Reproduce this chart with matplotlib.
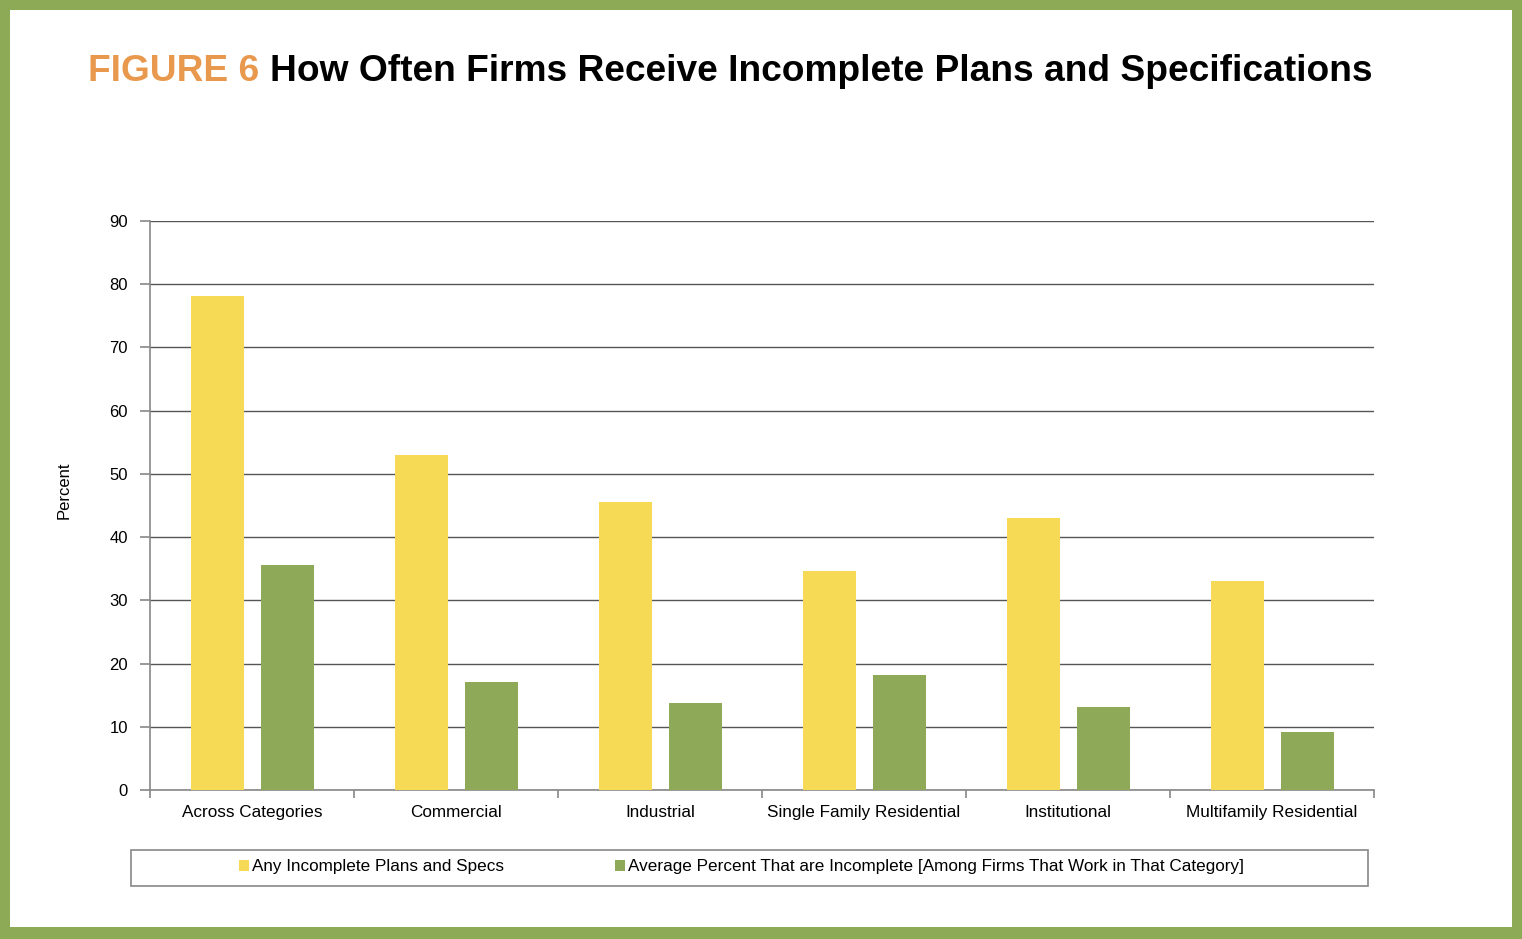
import matplotlib
matplotlib.use("Agg")
import matplotlib.pyplot as plt
import numpy as np
from matplotlib.patches import Rectangle

categories = ["Across Categories", "Commercial", "Industrial",
              "Single Family Residential", "Institutional", "Multifamily Residential"]
any_incomplete = [78.2, 53.0, 45.6, 34.6, 43.0, 33.1]
avg_percent = [35.6, 17.1, 13.8, 18.2, 13.1, 9.2]
series_names = ["Any Incomplete Plans and Specs",
                "Average Percent That are Incomplete [Among Firms That Work in That Category]"]
yticks = [0, 10, 20, 30, 40, 50, 60, 70, 80, 90]

YELLOW = "#F6D955"
GREEN = "#8EAA58"
FRAME = "#8DAA57"
ORANGE = "#E8994E"

plt.rcParams['font.family'] = ['Liberation Sans', 'DejaVu Sans']

W, H = 1522, 939
fig = plt.figure(figsize=(W / 100, H / 100), dpi=100)
fig.patch.set_facecolor(FRAME)
fig.add_artist(Rectangle((10 / W, 12 / H), (W - 20) / W, (H - 22) / H,
                         transform=fig.transFigure, facecolor="white", edgecolor="none", zorder=0))

ax = fig.add_axes([150 / W, (H - 790) / H, 1224 / W, 569 / H])
ax.set_facecolor("none")
x = np.arange(len(categories))
bw = 0.26
ax.bar(x - 0.167, any_incomplete, width=bw, color=YELLOW, zorder=3, label=series_names[0])
ax.bar(x + 0.176, avg_percent, width=bw, color=GREEN, zorder=3, label=series_names[1])

ax.set_xlim(-0.5, len(categories) - 0.5)
ax.set_ylim(0, 90)
ax.set_yticks(yticks)
ax.yaxis.grid(True, color="#555555", linewidth=1.0, zorder=1)
ax.set_axisbelow(True)
for s in ["top", "right"]:
    ax.spines[s].set_visible(False)
for s in ["left", "bottom"]:
    ax.spines[s].set_color("#888888")
    ax.spines[s].set_linewidth(1.2)
ax.set_xticks(x)
ax.set_xticklabels(categories, fontsize=12.3)
ax.tick_params(axis="x", length=0, pad=11)
ax.set_xticks(np.arange(len(categories) + 1) - 0.5, minor=True)
ax.tick_params(axis="x", which="minor", length=6, color="#888888", width=1.2)
ax.tick_params(axis="y", length=7, color="#888888", width=1.2, labelsize=12, pad=9)
ax.set_ylabel("Percent", fontsize=12)
ax.yaxis.set_label_coords(-0.0637, 0.527)

# legend box
fig.add_artist(Rectangle((131 / W, (H - 886) / H), (1368 - 131) / W, 36 / H,
                         transform=fig.transFigure, facecolor="white", edgecolor="#888888",
                         linewidth=1.2, zorder=1))
leg = fig.legend(loc="center", bbox_to_anchor=(741.5 / W, (H - 867) / H), ncol=2,
                 frameon=False, fontsize=12.3, handlelength=0.6, handleheight=0.6,
                 handletextpad=0.2, columnspacing=6.45)
leg.set_zorder(2)

# title
t1 = fig.text(88 / W, (H - 81) / H, "FIGURE 6", color=ORANGE, fontsize=26.7,
              fontweight="bold", va="baseline")
fig.canvas.draw()
bb = t1.get_window_extent()
fig.text((bb.x1 + 11) / W, (H - 81) / H, "How Often Firms Receive Incomplete Plans and Specifications",
         color="black", fontsize=26.7, fontweight="bold", va="baseline")

fig.savefig("out.png", dpi=100, facecolor=fig.get_facecolor())
